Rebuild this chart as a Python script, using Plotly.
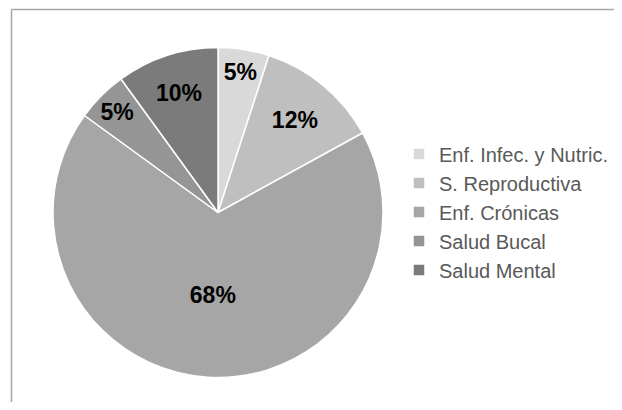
import plotly.graph_objects as go

categories = ["Enf. Infec. y Nutric.", "S. Reproductiva", "Enf. Crónicas", "Salud Bucal", "Salud Mental"]
values = [5, 12, 68, 5, 10]
colors = ["#d9d9d9", "#bfbfbf", "#a6a6a6", "#959595", "#7b7b7b"]

OFF = 8  # default page body margin
W, H = 614, 394


def px(x):
    return (x - OFF) / W


def py(y):
    return 1 - (y - OFF) / H


fig = go.Figure(go.Pie(
    labels=categories,
    values=values,
    sort=False,
    direction="clockwise",
    rotation=0,
    marker=dict(colors=colors, line=dict(color="white", width=1.5)),
    texttemplate="%{percent:.0%}",
    textposition="inside",
    insidetextorientation="horizontal",
    textfont=dict(family="Liberation Sans, Arial", size=23, color="black", weight="bold"),
    domain=dict(x=[px(53), px(383)], y=[py(378), py(47)]),
    hoverinfo="label+percent",
))

fig.update_layout(
    width=W, height=H,
    margin=dict(l=0, r=0, t=0, b=0),
    paper_bgcolor="white",
    plot_bgcolor="white",
    showlegend=True,
    legend=dict(
        x=px(399), y=py(212), xanchor="left", yanchor="middle",
        font=dict(family="Liberation Sans, Arial", size=20, color="#595959"),
        tracegroupgap=0, itemwidth=30,
    ),
    shapes=[
        dict(type="line", xref="paper", yref="paper", x0=px(11.5), x1=1.01, y0=py(9.5), y1=py(9.5),
             line=dict(color="#a6a6a6", width=1.5)),
        dict(type="line", xref="paper", yref="paper", x0=px(11.5), x1=px(11.5), y0=-0.01, y1=py(9.5),
             line=dict(color="#a6a6a6", width=1.5)),
    ],
)

fig.write_html("out.html")
